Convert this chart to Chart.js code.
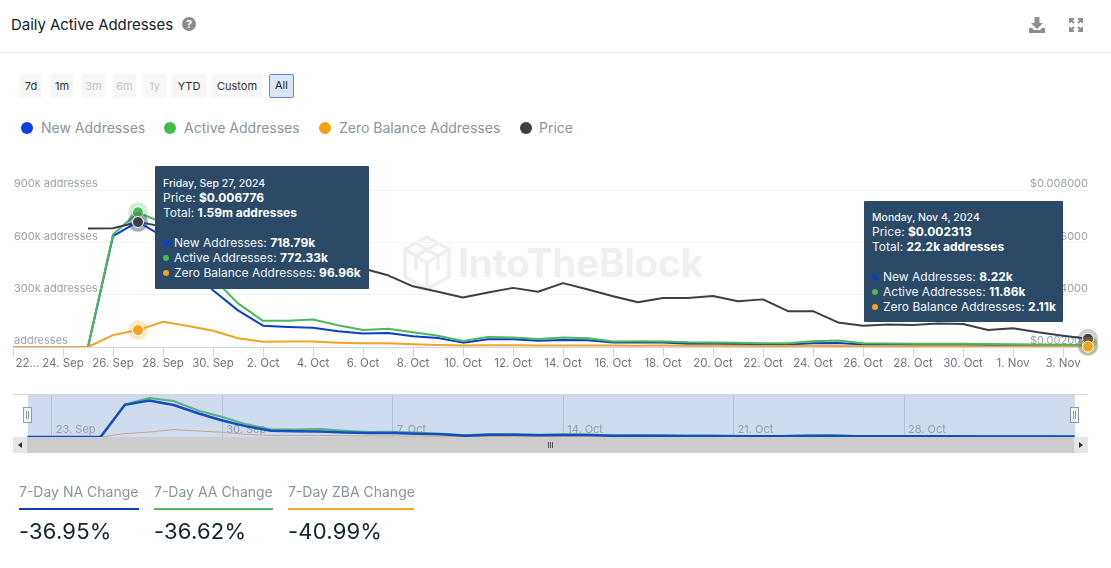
<!DOCTYPE html>
<html>
<head>
<meta charset="utf-8">
<title>Daily Active Addresses</title>
<script src="https://cdn.jsdelivr.net/npm/chart.js@4"></script>
<style>
  html, body { margin: 0; padding: 0; background: #fff; }
  body { width: 1111px; height: 568px; position: relative; overflow: hidden; font-family: Inter, sans-serif; }
  .abs { position: absolute; }
  #title { left: 11px; top: 15px; font-size: 15px; line-height: 20px; font-weight: 400; color: #14212c; letter-spacing: -0.05px; }
  #divider { left: 0; top: 52px; width: 1111px; height: 1px; background: #e9ebed; }
  .btn { top: 74px; height: 24px; line-height: 24px; text-align: center; font-size: 11px; background: #f7f7f7; color: #333; border-radius: 2px; box-sizing: border-box; }
  .btn.off { color: #c6c6c6; }
  .btn.on { background: #dce6f7; border: 1.5px solid #5b85d6; line-height: 21px; color: #222; }
  .leg { top: 119px; height: 18px; line-height: 18px; font-size: 14px; color: #8a959e; white-space: nowrap; }
  .dot { top: 122px; width: 12px; height: 12px; border-radius: 50%; }
  #mark { left: 402px; top: 235px; width: 305px; height: 56px; }
  #markText { left: 458px; top: 238px; font-size: 39px; line-height: 50px; font-weight: 700; color: #efefef; letter-spacing: -0.4px; white-space: nowrap; }
  canvas { position: absolute; left: 0; }
  .tip { background: #2a4a68; color: #f2f5f8; font-size: 12px; line-height: 15px; white-space: nowrap; box-sizing: border-box; border-radius: 1px; }
  .tip b { font-weight: 700; color: #fff; }
  .tip .d { font-size: 10.5px; font-weight: 500; line-height: 13px; }
  .tip i { display: inline-block; width: 6px; height: 6px; border-radius: 50%; margin-right: 5px; vertical-align: 1px; }
  #navBg { left: 27.5px; top: 395px; width: 1047px; height: 42px; background: #cfdbee; }
  #navTop { left: 13px; top: 394px; width: 1075px; height: 1px; background: #d6d6d6; }
  #scroll { left: 27px; top: 437px; width: 1047px; height: 16px; background: #cccccc; }
  .sbtn { top: 437px; width: 14px; height: 16px; background: #e6e6e6; }
  .arrow { width: 0; height: 0; top: 442px; border-top: 3px solid transparent; border-bottom: 3px solid transparent; }
  .grip { top: 442px; width: 1px; height: 6px; background: #555; }
  .hand { top: 407px; width: 7px; height: 14px; background: #f4f4f4; border: 1px solid #999; }
  .hand:after { content: ""; position: absolute; left: 2px; top: 3px; width: 1px; height: 8px; background: #999; box-shadow: 2px 0 0 #999; }
  .statLabel { top: 483px; font-size: 14px; line-height: 18px; color: #8a949c; white-space: nowrap; }
  .statLine { top: 508px; height: 2px; }
  .statValue { top: 517px; font-size: 22px; line-height: 28px; color: #14232e; white-space: nowrap; letter-spacing: 0.2px; }
</style>
</head>
<body>
<div id="title" class="abs">Daily Active Addresses</div>
<svg class="abs" style="left:182px;top:17px" width="14" height="14" viewBox="0 0 14 14">
  <circle cx="7" cy="7" r="7" fill="#8c8c8c"/>
  <text x="7" y="11" text-anchor="middle" font-size="11" font-weight="700" font-family="Inter" fill="#fff">?</text>
</svg>
<svg class="abs" style="left:1029px;top:17px" width="16" height="16" viewBox="0 0 16 16" fill="#8a8f94">
  <path d="M5.5 0h5v6h3.5L8 12 2 6h3.5z"/><path d="M0 11h3l2 2h6l2-2h3v5H0z"/>
</svg>
<svg class="abs" style="left:1069px;top:18px" width="14" height="14" viewBox="0 0 14 14" fill="none" stroke="#8a8f94" stroke-width="2">
  <path d="M1 5V1h4M9 1h4v4M13 9v4H9M5 13H1V9M1 1l4 4M13 1L9 5M13 13L9 9M1 13l4-4"/>
</svg>
<div id="divider" class="abs"></div>
<div id="buttons"></div>
<div id="legend"></div>

<svg id="mark" class="abs" viewBox="0 0 50 56" preserveAspectRatio="xMinYMin meet" fill="none" stroke="#efefef" stroke-width="3.5">
  <path d="M25 2L47 14V42L25 54L3 42V14Z"/><path d="M3 14L25 28L47 14M25 28V54M14 8L36 21V35M36 8L14 21V35"/>
</svg>
<div id="markText" class="abs">IntoTheBlock</div>

<canvas id="mainChart" width="1111" height="380" style="top:0"></canvas>

<div class="abs tip" style="left:155px;top:166px;width:214px;height:123px;padding:11px 0 0 8px">
  <div class="d">Friday, Sep 27, 2024</div>
  <div>Price: <b>$0.006776</b></div>
  <div>Total: <b>1.59m addresses</b></div>
  <div>&nbsp;</div>
  <div><i style="background:#0a3fc4"></i>New Addresses: <b>718.79k</b></div>
  <div><i style="background:#4cb85a"></i>Active Addresses: <b>772.33k</b></div>
  <div><i style="background:#f2a320"></i>Zero Balance Addresses: <b>96.96k</b></div>
</div>
<div class="abs tip" style="left:864px;top:201px;width:199px;height:121px;padding:10px 0 0 8px">
  <div class="d">Monday, Nov 4, 2024</div>
  <div>Price: <b>$0.002313</b></div>
  <div>Total: <b>22.2k addresses</b></div>
  <div>&nbsp;</div>
  <div><i style="background:#0a3fc4"></i>New Addresses: <b>8.22k</b></div>
  <div><i style="background:#4cb85a"></i>Active Addresses: <b>11.86k</b></div>
  <div><i style="background:#f2a320"></i>Zero Balance Addresses: <b>2.11k</b></div>
</div>

<div id="navTop" class="abs"></div>
<div id="navBg" class="abs"></div>
<canvas id="navChart" width="1111" height="70" style="top:385px"></canvas>
<div id="scroll" class="abs"></div>
<div class="abs sbtn" style="left:13px"></div>
<div class="abs sbtn" style="left:1074px"></div>
<div class="abs arrow" style="left:18px;border-right:4px solid #333"></div>
<div class="abs arrow" style="left:1079px;border-left:4px solid #333"></div>
<div class="abs grip" style="left:548px"></div>
<div class="abs grip" style="left:550px"></div>
<div class="abs grip" style="left:552px"></div>
<div class="abs hand" style="left:23px"></div>
<div class="abs hand" style="left:1070px"></div>

<div id="stats"></div>

<script>
const dates = [
  "22. Sep", "23. Sep", "24. Sep", "25. Sep", "26. Sep", "27. Sep", "28. Sep", "29. Sep", "30. Sep",
  "1. Oct", "2. Oct", "3. Oct", "4. Oct", "5. Oct", "6. Oct", "7. Oct", "8. Oct", "9. Oct", "10. Oct",
  "11. Oct", "12. Oct", "13. Oct", "14. Oct", "15. Oct", "16. Oct", "17. Oct", "18. Oct", "19. Oct", "20. Oct",
  "21. Oct", "22. Oct", "23. Oct", "24. Oct", "25. Oct", "26. Oct", "27. Oct", "28. Oct", "29. Oct", "30. Oct",
  "31. Oct", "1. Nov", "2. Nov", "3. Nov", "4. Nov"
];
const newAddresses = [
  0, 0, 0, 0, 635000, 718790, 632000, 470000, 325000,
  210000, 122000, 115000, 110000, 90000, 78000, 80000, 62000, 52000, 25000,
  45000, 44000, 36000, 40000, 38000, 26000, 26000, 26000, 19000, 18000,
  17000, 16000, 15000, 22000, 23000, 15000, 14000, 13500, 13000, 12500,
  11500, 11000, 10000, 9000, 8220
];
const activeAddresses = [
  0, 0, 0, 0, 645000, 772330, 710000, 525000, 395000,
  250000, 150000, 150000, 158000, 125000, 97000, 105000, 85000, 65000, 35000,
  58000, 55000, 46000, 55000, 50000, 32000, 33000, 32000, 27000, 26000,
  24000, 22000, 22000, 33000, 37000, 22000, 20000, 19000, 18500, 18000,
  17000, 16000, 15000, 13000, 11860
];
const zeroBalance = [
  0, 0, 0, 0, 68000, 96960, 145000, 120000, 93000,
  50000, 30000, 32000, 31000, 25000, 22000, 21000, 16000, 12000, 9000,
  10000, 9500, 9000, 9000, 8500, 8000, 7500, 8000, 7500, 7000,
  6500, 6000, 6000, 6500, 6000, 5000, 4500, 4500, 4000, 4000,
  3500, 3500, 3000, 2500, 2110
];
const price = [
  null, null, null, 0.00653, 0.00654, 0.006776, 0.0066, 0.0063, 0.0061,
  0.0059, 0.0058, 0.0057, 0.0056, 0.0053, 0.0050, 0.00474, 0.00432, 0.00411, 0.00389,
  0.00408, 0.00426, 0.00411, 0.00444, 0.0042, 0.00394, 0.00371, 0.00387, 0.00387, 0.00395,
  0.00375, 0.00382, 0.00337, 0.00337, 0.00294, 0.00281, 0.00286, 0.00284, 0.0029, 0.00288,
  0.00265, 0.00272, 0.00256, 0.00243, 0.002313
];
const navTicks = ["23. Sep", "30. Sep", "7. Oct", "14. Oct", "21. Oct", "28. Oct"];
const highlighted = ["27. Sep", "4. Nov"];

const rangeButtons = [
  ["7d", 20, 22, ""], ["1m", 51, 22, ""], ["3m", 82, 23, "off"], ["6m", 113, 23, "off"], ["1y", 143, 23, "off"],
  ["YTD", 172, 34, ""], ["Custom", 212, 50, ""], ["All", 269, 25, "on"]
];
const legendItems = [
  ["New Addresses", "#0a40e0", 21, 41], ["Active Addresses", "#3dbb4b", 164, 184],
  ["Zero Balance Addresses", "#f9a011", 319, 339], ["Price", "#3c4044", 520, 539]
];
const stats = [
  ["7-Day NA Change", "-36.95%", "#0a3fb8", 19, 120],
  ["7-Day AA Change", "-36.62%", "#4fb860", 154, 119],
  ["7-Day ZBA Change", "-40.99%", "#f0a52c", 288, 126]
];

function addDiv(parent, cls, left, text, extra) {
  const el = document.createElement("div");
  el.className = "abs " + cls;
  el.style.left = left + "px";
  if (text) el.textContent = text;
  if (extra) el.style.cssText += extra;
  document.getElementById(parent).appendChild(el);
}
rangeButtons.forEach(([t, x, w, c]) => addDiv("buttons", "btn " + c, x, t, "width:" + w + "px"));
legendItems.forEach(([t, col, dx, tx]) => {
  addDiv("legend", "dot", dx, "", "background:" + col);
  addDiv("legend", "leg", tx, t);
});
stats.forEach(([label, value, col, x, w]) => {
  addDiv("stats", "statLabel", x, label);
  addDiv("stats", "statLine", x, "", "width:" + w + "px;background:" + col);
  addDiv("stats", "statValue", x, value);
});

const colors = { blue: "#0a3fc4", green: "#4cb85a", orange: "#f2a320", dark: "#3b4046" };

// halo and dot on the hovered days, positions come from the dataset elements
const hoverDots = {
  id: "hoverDots",
  afterDatasetsDraw(chart) {
    const c = chart.ctx;
    [0, 1, 3, 2].forEach((i) => {
      const ds = chart.data.datasets[i];
      const meta = chart.getDatasetMeta(i);
      highlighted.forEach((d) => {
        const pt = meta.data[dates.indexOf(d)];
        c.save();
        c.globalAlpha = 0.25;
        c.fillStyle = ds.borderColor;
        c.beginPath();
        c.arc(pt.x, pt.y, 10, 0, Math.PI * 2);
        c.fill();
        c.globalAlpha = 1;
        c.strokeStyle = "#fff";
        c.lineWidth = 1;
        c.beginPath();
        c.arc(pt.x, pt.y, 5.5, 0, Math.PI * 2);
        c.fillStyle = ds.borderColor;
        c.fill();
        c.stroke();
        c.restore();
      });
    });
  },
};

new Chart(document.getElementById("mainChart").getContext("2d"), {
  type: "line",
  data: {
    labels: dates,
    datasets: [
      { label: "New Addresses", data: newAddresses, borderColor: colors.blue, yAxisID: "y", order: 3 },
      { label: "Active Addresses", data: activeAddresses, borderColor: colors.green, yAxisID: "y", order: 2 },
      { label: "Zero Balance Addresses", data: zeroBalance, borderColor: colors.orange, yAxisID: "y", order: 0 },
      { label: "Price", data: price, borderColor: colors.dark, yAxisID: "price", order: 1 },
    ],
  },
  options: {
    responsive: false,
    animation: false,
    layout: { padding: { left: 13, right: 23, top: 190, bottom: 0 } },
    elements: {
      point: { radius: 0, hoverRadius: 0 },
      line: { borderWidth: 2, tension: 0, borderJoinStyle: "round" },
    },
    plugins: { legend: { display: false }, tooltip: { enabled: false } },
    scales: {
      x: {
        afterFit(s) {
          s.height = 33;
          s.paddingLeft = 0;
          s.paddingRight = 0;
        },
        afterBuildTicks(s) { s.ticks = s.ticks.filter((t, i) => i % 2 === 0); },
        grid: { drawOnChartArea: false, tickLength: 10, tickColor: "#ccd6eb" },
        border: { color: "#ccd6eb" },
        ticks: {
          autoSkip: false,
          maxRotation: 0,
          padding: 0,
          color: "#6d7680",
          font: { family: "Inter", size: 11.5 },
          callback(v) {
            return v === 0 ? "         22..." : dates[v];
          },
        },
      },
      y: {
        position: "left",
        min: 0,
        max: 900000,
        afterFit(s) { s.width = 0; },
        grid: { color: "#f3f3f3", drawTicks: false },
        border: { display: false },
        ticks: {
          stepSize: 300000,
          mirror: true,
          padding: 1,
          labelOffset: -6,
          color: "#9aa2aa",
          font: { family: "Inter", size: 11 },
          callback(v) {
            return v === 0 ? "addresses" : v / 1000 + "k addresses";
          },
        },
      },
      price: {
        position: "right",
        min: 0.002,
        max: 0.008,
        afterFit(s) { s.width = 0; },
        grid: { display: false },
        border: { display: false },
        ticks: {
          stepSize: 0.002,
          mirror: true,
          padding: 0,
          labelOffset: -6,
          color: "#9aa2aa",
          font: { family: "Inter", size: 11 },
          callback(v) {
            return "$" + v.toFixed(6);
          },
        },
      },
    },
  },
  plugins: [hoverDots],
});

new Chart(document.getElementById("navChart").getContext("2d"), {
  type: "line",
  data: {
    labels: dates,
    datasets: [
      { data: newAddresses, borderColor: "#0e50bd", borderWidth: 2.5, order: 0 },
      { data: activeAddresses, borderColor: "#5fae80", borderWidth: 2, order: 1 },
      { data: zeroBalance, borderColor: "#cda582", borderWidth: 1, order: 2 },
    ],
  },
  options: {
    responsive: false,
    animation: false,
    layout: { padding: { left: 27.5, right: 36.5, top: 10, bottom: 18 } },
    elements: { point: { radius: 0, hoverRadius: 0 }, line: { tension: 0 } },
    plugins: { legend: { display: false }, tooltip: { enabled: false } },
    scales: {
      x: {
        afterFit(s) {
          s.height = 0;
          s.paddingLeft = 0;
          s.paddingRight = 0;
        },
        afterBuildTicks(s) { s.ticks = s.ticks.filter((t) => navTicks.includes(dates[t.value])); },
        grid: { color: "rgba(120,130,150,.3)", drawTicks: false },
        border: { display: false },
        ticks: {
          autoSkip: false,
          maxRotation: 0,
          align: "start",
          mirror: true,
          padding: 1,
          labelOffset: 4,
          color: "#939cab",
          font: { family: "Inter", size: 11 },
          callback(v) { return dates[v]; },
        },
      },
      y: { display: false, min: 0, max: 830000 },
    },
  },
});
</script>
</body>
</html>
